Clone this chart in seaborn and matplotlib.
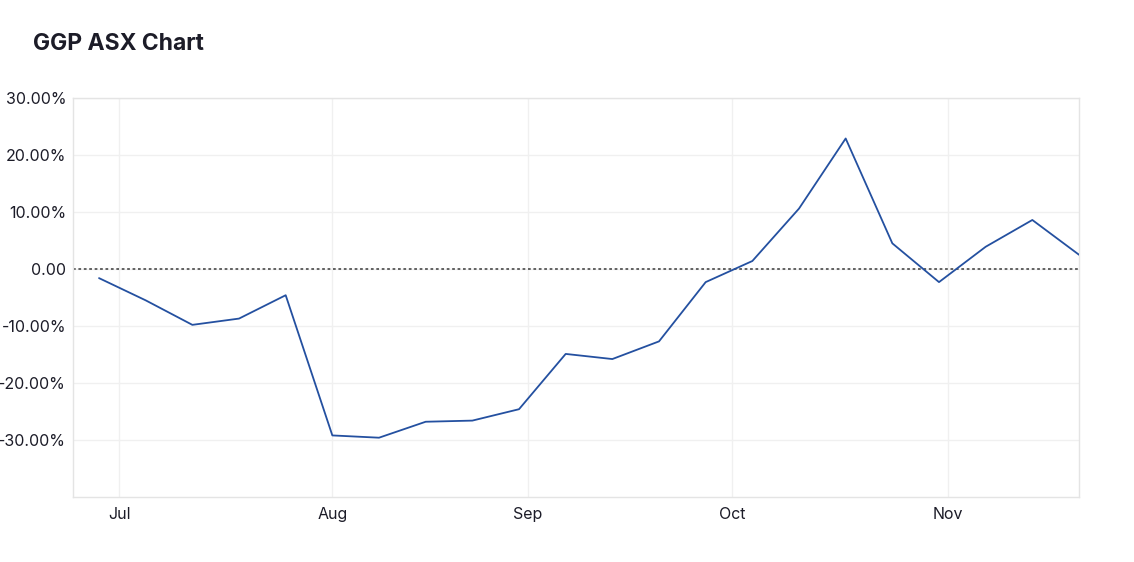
import matplotlib
matplotlib.use("Agg")
import matplotlib.pyplot as plt
import seaborn as sns
import pandas as pd

# weekly % change
week = list(range(22))
change_pct = [-1.6, -5.5, -9.8, -8.7, -4.6, -29.2, -29.6, -26.8, -26.6, -24.6, -14.9,
              -15.8, -12.7, -2.3, 1.4, 10.6, 22.9, 4.5, -2.3, 3.9, 8.6, 2.5]

month_labels = ["Jul", "Aug", "Sep", "Oct", "Nov"]
month_pos = [0.43, 5.0, 9.19, 13.57, 18.19]

y_ticks = [30, 20, 10, 0, -10, -20, -30]
y_labels = ["30.00%", "20.00%", "10.00%", "0.00", "-10.00%", "-20.00%", "-30.00%"]

df = pd.DataFrame({"week": week, "change": change_pct})

sns.set_theme(style="white")
plt.rcParams["font.family"] = ["Inter", "DejaVu Sans"]

fig = plt.figure(figsize=(11.34, 5.62), dpi=100)
ax = fig.add_axes([0.0644, 0.1157, 0.8871, 0.7099])

ax.axhline(0, color="#555555", linestyle=(0, (1.5, 1.5)), linewidth=1.3, zorder=2)
sns.lineplot(data=df, x="week", y="change", ax=ax, color="#2450a0", linewidth=1.3, zorder=3)

ax.set_xlim(-0.557, 21)
ax.set_ylim(-40, 30)
ax.set_xticks(month_pos)
ax.set_xticklabels(month_labels)
ax.set_yticks(y_ticks)
ax.set_yticklabels(y_labels)
ax.tick_params(axis="both", length=0, labelsize=11.5, colors="#1c1c28")
ax.tick_params(axis="y", pad=5)
ax.tick_params(axis="x", pad=7.5)
ax.grid(True, color="#f0f0f0", linewidth=1)
for s in ax.spines.values():
    s.set_color("#e4e4e4")
    s.set_linewidth(1)
ax.set_xlabel("")
ax.set_ylabel("")

fig.text(0.029, 0.922, "GGP ASX Chart", fontsize=16.5, fontweight="bold", color="#1c1c28",
         va="center", ha="left")

fig.savefig("out.png", dpi=100)
